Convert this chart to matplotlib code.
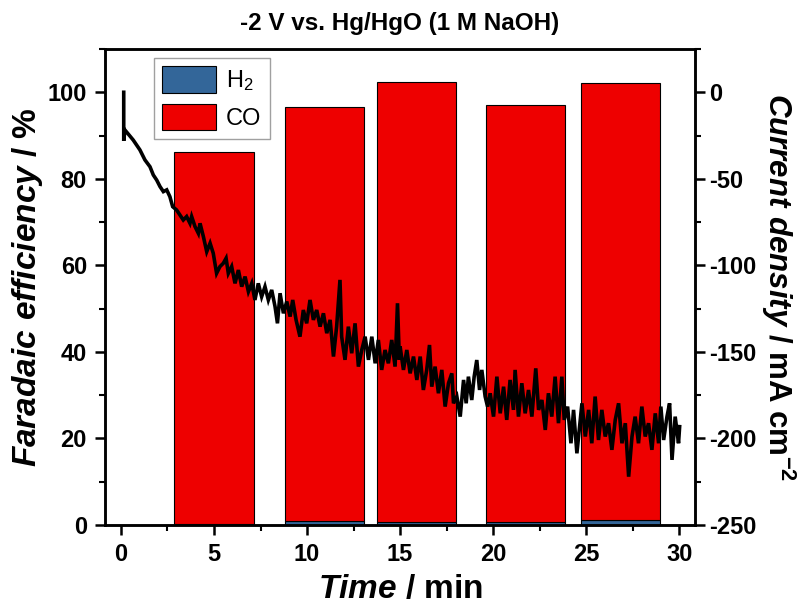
import matplotlib
matplotlib.use("Agg")
import matplotlib.pyplot as plt
from matplotlib.ticker import MultipleLocator

plt.rcParams['font.family'] = ['Liberation Sans', 'DejaVu Sans']
plt.rcParams['mathtext.fontset'] = 'custom'
plt.rcParams['mathtext.it'] = 'Liberation Sans:italic:bold'
plt.rcParams['mathtext.rm'] = 'Liberation Sans:bold'
plt.rcParams['mathtext.bf'] = 'Liberation Sans:bold'
plt.rcParams['axes.unicode_minus'] = False

# ---- data ----
bar_times = [5.0, 10.95, 15.9, 21.75, 26.85]
fe_h2 = [0.3, 0.9, 0.8, 0.6, 1.2]
fe_co = [85.9, 95.7, 101.6, 96.5, 100.9]

time_min = [0.15, 0.15, 0.215, 0.66, 1.02, 1.29, 1.56, 1.74, 1.92, 2.10, 2.28, 2.46,
            2.63, 2.78, 2.99, 3.17, 3.35, 3.53, 3.71, 3.80, 3.98, 4.16, 4.25, 4.43,
            4.61, 4.79, 4.96, 5.14, 5.32, 5.50, 5.65, 5.77, 5.95, 6.13, 6.31, 6.49,
            6.67, 6.85, 7.03, 7.20, 7.38, 7.56, 7.74, 7.92, 8.10, 8.28, 8.41, 8.55,
            8.73, 8.91, 9.09, 9.23, 9.41, 9.62, 9.80, 9.98, 10.16, 10.34, 10.52,
            10.70, 10.88, 11.06, 11.24, 11.42, 11.59, 11.77, 11.86, 12.04, 12.22,
            12.40, 12.58, 12.76, 12.94, 13.12, 13.30, 13.48, 13.66, 13.83, 14.01,
            14.19, 14.37, 14.55, 14.73, 14.86, 14.96,
            15.00, 15.18, 15.36, 15.54, 15.72, 15.90, 16.08, 16.25, 16.43, 16.58,
            16.70, 16.88, 17.06, 17.24, 17.42, 17.60, 17.78, 17.87, 18.05, 18.23,
            18.41, 18.55, 18.67, 18.85, 18.98, 19.12, 19.27, 19.39, 19.57, 19.70,
            19.84, 20.02, 20.20, 20.38, 20.56, 20.73, 20.91, 21.09, 21.18, 21.36,
            21.54, 21.72, 21.90, 22.08, 22.29, 22.44, 22.62, 22.80, 22.97, 23.15,
            23.33, 23.51, 23.69, 23.82, 24.00, 24.18, 24.32, 24.50, 24.77, 24.95,
            25.13, 25.30, 25.48, 25.66, 25.84, 26.02, 26.20, 26.38, 26.56, 26.74,
            26.92, 27.10, 27.28, 27.46, 27.63, 27.81, 27.99, 28.17, 28.35, 28.53,
            28.71, 28.89, 29.01, 29.16, 29.34, 29.48, 29.61, 29.78, 29.96, 30.02]
current_density = [0.0, -28.0, -21.8, -27.6, -33.3, -39.1, -43.0, -47.8, -50.7, -54.5,
                   -57.4, -56.4, -60.3, -66.1, -68.0, -70.9, -73.8, -71.8, -75.7, -71.8,
                   -77.6, -81.5, -75.7, -83.4, -92.1, -87.2, -93.0, -104.6, -100.7, -98.8,
                   -95.9, -104.6, -100.7, -110.4, -102.7, -112.3, -106.5, -115.2, -110.4,
                   -120.0, -110.4, -118.1, -112.3, -120.0, -114.2, -123.8, -133.5, -116.1,
                   -127.7, -120.9, -129.6, -120.0, -131.5, -141.2, -125.8, -133.5, -120.0,
                   -131.5, -125.8, -135.4, -127.7, -139.2, -131.5, -152.7, -135.4, -108.4,
                   -141.2, -154.6, -135.4, -150.8, -133.5, -158.5, -148.9, -141.2, -154.6,
                   -141.2, -156.6, -143.1, -160.4, -148.9, -156.6, -143.1, -158.5, -121.9,
                   -154.6,
                   -146.9, -160.4, -148.9, -162.4, -152.7, -166.2, -152.7, -172.0, -160.4,
                   -146.0, -170.1, -158.5, -173.9, -160.4, -181.6, -168.1, -162.4, -179.7,
                   -175.8, -187.4, -166.2, -179.7, -164.3, -177.8, -164.3, -154.7, -172.0,
                   -160.4, -175.8, -181.6, -173.9, -187.4, -164.3, -185.5, -170.1, -189.3,
                   -166.2, -183.5, -160.4, -187.4, -168.1, -185.5, -172.0, -187.4, -159.5,
                   -183.5, -177.8, -195.1, -173.9, -187.4, -164.3, -191.2, -164.3, -189.3,
                   -181.6, -202.8, -183.5, -208.6, -179.7, -198.9, -183.5, -202.8, -175.8,
                   -200.9, -183.5, -198.9, -191.2, -206.6, -189.3, -179.7, -202.8, -191.2,
                   -222.1, -198.9, -187.4, -202.8, -181.6, -198.9, -191.2, -206.6, -185.5,
                   -202.8, -181.6, -200.9, -187.4, -179.7, -212.4, -187.4, -202.8, -193.2]

x_ticks = [0, 5, 10, 15, 20, 25, 30]
fe_ticks = [0, 20, 40, 60, 80, 100]
j_ticks = [-250, -200, -150, -100, -50, 0]

# ---- figure ----
fig = plt.figure(figsize=(8.01, 6.11), dpi=100)
ax = fig.add_axes([0.131, 0.1408, 0.737, 0.779])

h2_color = '#336699'
co_color = '#EE0000'
bw = 4.25
ax.bar(bar_times, fe_h2, width=bw, color=h2_color, edgecolor='black', linewidth=0.8,
       label='H$_\\mathregular{2}$', zorder=2)
ax.bar(bar_times, fe_co, width=bw, bottom=fe_h2, color=co_color, edgecolor='black',
       linewidth=0.8, label='CO', zorder=2)

ax.set_xlim(-0.86, 30.86)
ax.set_ylim(0, 110)
ax.set_xticks(x_ticks)
ax.set_yticks(fe_ticks)
ax.xaxis.set_minor_locator(MultipleLocator(2.5))
ax.yaxis.set_minor_locator(MultipleLocator(10))

ax2 = ax.twinx()
ax2.plot(time_min, current_density, color='black', linewidth=2.6, zorder=3,
         solid_joinstyle='miter')
ax2.set_ylim(-250, 25)
ax2.set_yticks(j_ticks)
ax2.yaxis.set_minor_locator(MultipleLocator(25))

tick_fs = 17
for a in (ax, ax2):
    for sp in a.spines.values():
        sp.set_linewidth(1.8)
    a.tick_params(which='major', direction='out', length=7, width=1.8, labelsize=tick_fs)
    a.tick_params(which='minor', direction='out', length=4, width=1.5)
    for lab in a.get_xticklabels() + a.get_yticklabels():
        lab.set_fontweight('bold')
ax.tick_params(axis='x', top=False, which='both', pad=6)
ax.tick_params(axis='y', right=False, which='both', pad=6)
ax2.tick_params(axis='y', pad=3)

ax.set_xlabel(r'$\mathit{Time}$ / min', fontsize=24, fontweight='bold', labelpad=6)
ax.set_ylabel(r'$\mathit{Faradaic\ efficiency}$ / %', fontsize=24, fontweight='bold', labelpad=2)
ax2.set_ylabel(r'$\mathit{Current\ density}$ / mA cm$^{\mathbf{-2}}$', fontsize=22.5,
               fontweight='bold', rotation=270, labelpad=29)

ax.set_title('-2 V vs. Hg/HgO (1 M NaOH)', fontsize=17.5, fontweight='bold', pad=14)

leg = ax.legend(loc='upper left', bbox_to_anchor=(0.083, 0.981), fontsize=17, frameon=True,
                fancybox=False, edgecolor='#888888', handlelength=2.3, handleheight=1.35,
                borderpad=0.35, labelspacing=0.45, handletextpad=0.4, borderaxespad=0)
leg.get_frame().set_linewidth(1.0)
leg.set_zorder(5)

fig.savefig('out.png', dpi=100)
